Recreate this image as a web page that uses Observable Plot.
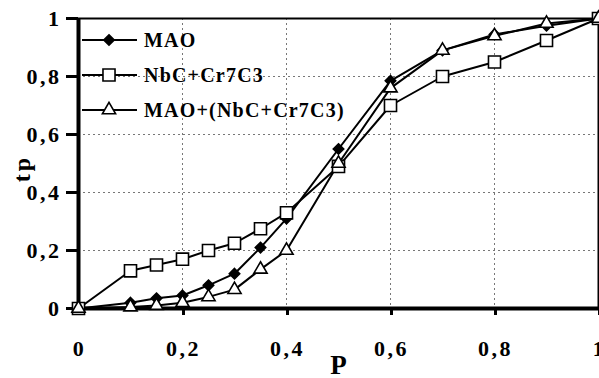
<!DOCTYPE html>
<html>
<head>
<meta charset="utf-8">
<script src="https://cdn.jsdelivr.net/npm/d3@7"></script>
<script src="https://cdn.jsdelivr.net/npm/@observablehq/plot@0.6"></script>
<style>
  html, body { margin: 0; padding: 0; background: #fff; }
  #wrap { position: relative; width: 599px; height: 378px; }
  .ytl text { letter-spacing: 2.5px; }
  .xtl text { letter-spacing: 2.5px; }
  .lbl text { letter-spacing: 3px; }
  #legend { position: absolute; left: 0; top: 0; font-family: "Liberation Serif", serif; font-weight: bold; font-size: 20px; letter-spacing: 1.2px; color: #000; }
  .li { position: absolute; left: 82px; height: 20px; display: flex; align-items: center; white-space: nowrap; }
  .li svg { margin-right: 6px; }
</style>
</head>
<body>
<div id="wrap"></div>
<script>
const P = [0, 0.1, 0.15, 0.2, 0.25, 0.3, 0.35, 0.4, 0.5, 0.6, 0.7, 0.8, 0.9, 1];
const seriesNames = ["MAO", "NbC+Cr7C3", "MAO+(NbC+Cr7C3)"];
const maoValues = [0, 0.02, 0.035, 0.045, 0.08, 0.12, 0.21, 0.31, 0.55, 0.785, 0.89, 0.945, 0.975, 1];
const nbcValues = [0, 0.13, 0.15, 0.17, 0.2, 0.225, 0.275, 0.33, 0.49, 0.70, 0.80, 0.85, 0.924, 1];
const mixValues = [0, 0.005, 0.01, 0.02, 0.04, 0.065, 0.135, 0.2, 0.5, 0.76, 0.89, 0.94, 0.983, 1];
const xTicks = [0, 0.2, 0.4, 0.6, 0.8, 1];
const yTicks = [0, 0.2, 0.4, 0.6, 0.8, 1];
const gridTicks = [0.2, 0.4, 0.6, 0.8];

const symbols = ["diamond2", "square", "triangle"];
const fills = ["black", "white", "white"];
const radii = [4.7, 6.8, 4.9];
const valueSets = [maoValues, nbcValues, mixValues];

const rows = [];
seriesNames.forEach((name, s) => {
  P.forEach((p, i) => rows.push({series: name, p, tp: valueSets[s][i]}));
});

const fmt = d => d === 0 || d === 1 ? String(d) : String(d).replace(".", ",");
const font = "Liberation Serif";

const marks = [
  Plot.ruleY(gridTicks, {stroke: "#777", strokeDasharray: "2,3", strokeWidth: 1}),
  Plot.ruleX(gridTicks, {stroke: "#777", strokeDasharray: "2,3", strokeWidth: 1}),
  Plot.ruleY([1], {stroke: "black", strokeWidth: 2}),
  Plot.ruleX([1], {stroke: "black", strokeWidth: 2}),
  Plot.axisY({ticks: yTicks, tickFormat: fmt, tickSize: 12, tickPadding: 5, strokeWidth: 3, fontSize: 22, fontWeight: "bold", fontFamily: font, label: null, className: "ytl"}),
  Plot.axisX({ticks: xTicks, tickFormat: fmt, tickSize: 7, tickPadding: 25, dx: 1, strokeWidth: 3, fontSize: 22, fontWeight: "bold", fontFamily: font, label: null, className: "xtl"}),
  Plot.ruleX([0], {stroke: "black", strokeWidth: 4}),
  Plot.ruleY([0], {stroke: "black", strokeWidth: 4}),
];
seriesNames.forEach((name, s) => {
  const d = rows.filter(r => r.series === name);
  marks.push(Plot.line(d, {x: "p", y: "tp", stroke: "black", strokeWidth: 2}));
});
seriesNames.forEach((name, s) => {
  const d = rows.filter(r => r.series === name);
  marks.push(Plot.dot(d, {x: "p", y: "tp", symbol: symbols[s], fill: fills[s], stroke: "black", strokeWidth: 1.6, r: radii[s]}));
});
marks.push(Plot.text(["tp"], {frameAnchor: "left", dx: -56, dy: 5, rotate: -90, fontSize: 24, fontWeight: "bold", fontFamily: font, textAnchor: "middle", className: "lbl"}));
marks.push(Plot.text(["P"], {frameAnchor: "bottom", dy: 65, fontSize: 27, fontWeight: "bold", fontFamily: font, lineAnchor: "bottom"}));

const chart = Plot.plot({
  width: 599,
  height: 378,
  marginLeft: 78,
  marginRight: 1,
  marginTop: 18,
  marginBottom: 70,
  x: {domain: [0, 1]},
  y: {domain: [0, 1]},
  style: {fontFamily: font, background: "white", color: "black", overflow: "visible"},
  marks
});
const wrap = document.getElementById("wrap");
wrap.appendChild(chart);

// legend overlay
const legend = document.createElement("div");
legend.id = "legend";
const rowTops = [40, 75, 110];
const symMap = {diamond2: d3.symbolDiamond2, square: d3.symbolSquare, triangle: d3.symbolTriangle};
seriesNames.forEach((name, s) => {
  const item = document.createElement("div");
  item.className = "li";
  item.style.top = (rowTops[s] - 10) + "px";
  const sw = d3.create("svg").attr("width", 56).attr("height", 20);
  sw.append("line").attr("x1", 0).attr("x2", 55).attr("y1", 10).attr("y2", 10).attr("stroke", "black").attr("stroke-width", 2);
  const r = radii[s];
  sw.append("path").attr("d", d3.symbol(symMap[symbols[s]], r * r * Math.PI)()).attr("transform", "translate(27,10)")
    .attr("fill", fills[s]).attr("stroke", "black").attr("stroke-width", 1.6);
  item.appendChild(sw.node());
  const t = document.createElement("span");
  t.textContent = name;
  item.appendChild(t);
  legend.appendChild(item);
});
wrap.appendChild(legend);
</script>
</body>
</html>
